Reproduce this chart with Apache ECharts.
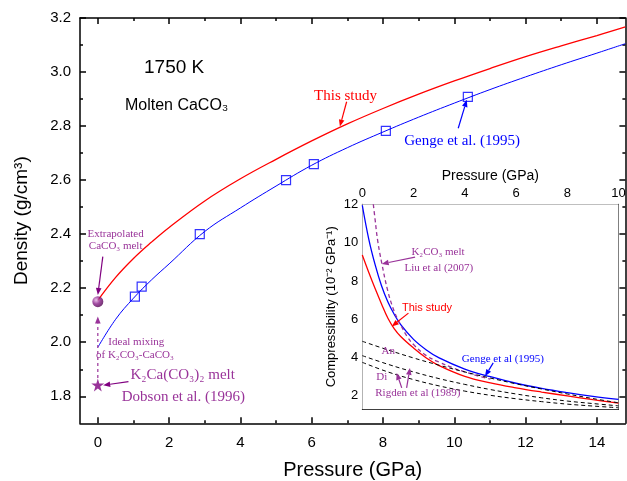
<!DOCTYPE html>
<html>
<head>
<meta charset="utf-8">
<script src="https://cdn.jsdelivr.net/npm/echarts@6/dist/echarts.min.js"></script>
<style>
  html, body { margin: 0; padding: 0; background: #fff; }
  #chart { width: 627px; height: 481px; }
</style>
</head>
<body>
<div id="chart"></div>
<script>
// ---- main plot: density of molten CaCO3 vs pressure ----
const pressure = [0, 0.5, 1, 1.5, 2, 3, 4, 5, 6, 7, 8, 9, 10, 11, 12, 13, 14, 14.8];
const rhoThisStudy = [2.155, 2.24, 2.31, 2.37, 2.425, 2.523, 2.605, 2.677, 2.745, 2.808, 2.865, 2.918, 2.967, 3.013, 3.057, 3.097, 3.135, 3.167];
const rhoGenge = [1.981, 2.085, 2.163, 2.23, 2.29, 2.41, 2.497, 2.578, 2.655, 2.72, 2.778, 2.833, 2.885, 2.935, 2.982, 3.027, 3.07, 3.105];
const gengeP = [1.04, 1.23, 2.86, 5.28, 6.06, 8.08, 10.38];
const gengeRho = [2.169, 2.206, 2.40, 2.60, 2.659, 2.782, 2.908];
const extrapolatedCaCO3 = [0, 2.15];
const dobsonK2Ca = [0, 1.842];

// ---- inset: compressibility vs pressure ----
const insetP = [0, 0.25, 0.5, 0.75, 1, 1.25, 1.5, 2, 2.5, 3, 4, 5, 6, 7, 8, 9, 10];
const betaThisStudy = [9.35, 8.45, 7.6, 6.8, 6.05, 5.5, 5.1, 4.5, 3.98, 3.58, 3.02, 2.68, 2.42, 2.2, 2.0, 1.8, 1.62];
const betaGenge = [11.95, 10.2, 8.85, 7.75, 6.9, 6.25, 5.72, 4.95, 4.4, 3.98, 3.4, 3.0, 2.66, 2.39, 2.17, 1.98, 1.82];
const liuP = [0.43, 0.5, 0.6, 0.76, 1.0, 1.25, 1.5, 1.75, 2.0, 2.5, 3.0, 3.5, 4.0, 4.5, 5.0];
const betaLiu = [12.0, 11.2, 10.1, 8.93, 7.45, 6.4, 5.7, 5.1, 4.68, 4.1, 3.76, 3.48, 3.25, 3.05, 2.87];
const rigdenP = [0, 1, 2, 3, 4, 5, 6, 7, 8, 9, 10];
const betaAn = [4.85, 4.4, 3.98, 3.6, 3.25, 2.93, 2.63, 2.36, 2.1, 1.86, 1.64];
const betaDi = [4.1, 3.65, 3.25, 2.9, 2.6, 2.33, 2.1, 1.9, 1.73, 1.6, 1.48];
const betaAnDi = [3.75, 3.25, 2.85, 2.52, 2.25, 2.03, 1.85, 1.7, 1.57, 1.47, 1.38];

const mainXMajor = [0, 2, 4, 6, 8, 10, 12, 14];
const mainXMinor = [1, 3, 5, 7, 9, 11, 13];
const mainYMajor = [1.8, 2.0, 2.2, 2.4, 2.6, 2.8, 3.0, 3.2];
const mainYMinor = [1.9, 2.1, 2.3, 2.5, 2.7, 2.9, 3.1];
const insetXMajor = [0, 2, 4, 6, 8, 10];
const insetXMinor = [1, 3, 5, 7, 9];
const insetYMajor = [2, 4, 6, 8, 10, 12];
const insetYMinor = [3, 5, 7, 9, 11];

const zip = (xs, ys) => xs.map((x, i) => [x, ys[i]]);

const SANS = 'Liberation Sans, Arial, sans-serif';
const SERIF = 'Liberation Serif, Times New Roman, serif';
const PURPLE = '#993399';

const chart = echarts.init(document.getElementById('chart'), null, { renderer: 'canvas' });

// one axis builder, used for every tick row (main + minor, mirrored sides)
function axis(kind, o) {
  const a = {
    type: 'value',
    gridIndex: o.grid,
    position: o.pos,
    min: o.min,
    max: o.max,
    splitLine: { show: false },
    axisLine: { show: o.line !== false, onZero: false, lineStyle: { color: '#000', width: o.lw || 1 } },
    axisTick: { show: true, inside: true, length: o.tick, customValues: o.ticks, lineStyle: { color: '#000', width: o.lw || 1 } },
    axisLabel: o.labels ? {
      show: true, customValues: o.labels, color: '#000', fontFamily: SANS, fontSize: o.fs, margin: o.margin,
      formatter: o.fmt || (v => String(v))
    } : { show: false },
  };
  if (o.name) {
    a.name = o.name;
    a.nameLocation = 'middle';
    a.nameGap = o.nameGap;
    a.nameTextStyle = { fontFamily: SANS, fontSize: o.nameFs, color: '#000' };
    if (kind === 'y') a.nameRotate = 90;
  }
  return a;
}

const MX = { grid: 0, min: -0.5, max: 14.8, lw: 1.5 };
const MY = { grid: 0, min: 1.7, max: 3.2, lw: 1.5 };
const IX = { grid: 1, min: 0, max: 10 };
const IY = { grid: 1, min: 1.3, max: 12 };

const xAxes = [
  axis('x', { ...MX, pos: 'bottom', tick: 6, ticks: mainXMajor, labels: mainXMajor, fs: 15, margin: 12, name: 'Pressure (GPa)', nameGap: 37, nameFs: 20 }),
  axis('x', { ...MX, pos: 'bottom', tick: 3, ticks: mainXMinor, line: false }),
  axis('x', { ...MX, pos: 'top', tick: 6, ticks: mainXMajor }),
  axis('x', { ...MX, pos: 'top', tick: 3, ticks: mainXMinor, line: false }),
  axis('x', { ...IX, pos: 'top', tick: 5, ticks: insetXMajor, labels: insetXMajor, fs: 13, margin: 4, name: 'Pressure (GPa)', nameGap: 21, nameFs: 14 }),
  axis('x', { ...IX, pos: 'top', tick: 3, ticks: insetXMinor, line: false }),
  axis('x', { ...IX, pos: 'bottom', tick: 5, ticks: insetXMajor }),
  axis('x', { ...IX, pos: 'bottom', tick: 3, ticks: insetXMinor, line: false }),
];
const yAxes = [
  axis('y', { ...MY, pos: 'left', tick: 6, ticks: mainYMajor, labels: mainYMajor, fs: 15, margin: 9, fmt: v => v.toFixed(1), name: 'Density (g/cm³)', nameGap: 49, nameFs: 19 }),
  axis('y', { ...MY, pos: 'left', tick: 3, ticks: mainYMinor, line: false }),
  axis('y', { ...MY, pos: 'right', tick: 6, ticks: mainYMajor }),
  axis('y', { ...MY, pos: 'right', tick: 3, ticks: mainYMinor, line: false }),
  axis('y', { ...IY, pos: 'left', tick: 5, ticks: insetYMajor, labels: insetYMajor, fs: 13, margin: 4, name: 'Compressibility (10⁻² GPa⁻¹)', nameGap: 24, nameFs: 13 }),
  axis('y', { ...IY, pos: 'left', tick: 3, ticks: insetYMinor, line: false }),
  axis('y', { ...IY, pos: 'right', tick: 5, ticks: insetYMajor }),
  axis('y', { ...IY, pos: 'right', tick: 3, ticks: insetYMinor, line: false }),
];

const lineSeries = (name, data, color, xi, yi, dashed, width) => ({
  name, type: 'line', data, xAxisIndex: xi, yAxisIndex: yi,
  smooth: 0.4, showSymbol: false, symbol: 'none',
  lineStyle: { color, width: width || 1.2, type: dashed ? [4, 3] : 'solid' },
  clip: true, z: 3,
});

chart.setOption({
  animation: false,
  backgroundColor: '#fff',
  grid: [
    { left: 80, top: 18, width: 545.4, height: 405.3, show: false, outerBoundsMode: 'none', containLabel: false },
    { left: 362.3, top: 204.3, width: 256.2, height: 205, show: true, backgroundColor: '#fff', borderWidth: 0, z: 1,
      outerBoundsMode: 'none', containLabel: false },
  ],
  xAxis: xAxes,
  yAxis: yAxes,
  series: [
    lineSeries('This study', zip(pressure, rhoThisStudy), '#ff0000', 0, 0, false, 1.3),
    lineSeries('Genge et al. (1995)', zip(pressure, rhoGenge), '#0000ff', 0, 0, false, 1),
    {
      name: 'Genge data', type: 'scatter', xAxisIndex: 0, yAxisIndex: 0,
      data: zip(gengeP, gengeRho), symbol: 'rect', symbolSize: 9,
      itemStyle: { color: 'rgba(255,255,255,0)', borderColor: '#0000ff', borderWidth: 1.2 }, z: 4,
    },
    {
      name: 'Extrapolated CaCO3 melt', type: 'scatter', xAxisIndex: 0, yAxisIndex: 0,
      data: [extrapolatedCaCO3], symbol: 'circle', symbolSize: 11, z: 5,
      itemStyle: {
        color: { type: 'radial', x: 0.35, y: 0.35, r: 0.7, colorStops: [
          { offset: 0, color: '#e6b3e6' }, { offset: 0.5, color: '#8a1f8a' }, { offset: 1, color: '#4d004d' } ] },
      },
    },
    {
      name: 'K2Ca(CO3)2 melt', type: 'scatter', xAxisIndex: 0, yAxisIndex: 0,
      data: [dobsonK2Ca], symbolSize: 13, z: 5,
      symbol: 'path://M50,0 L61,35 L98,35 L68,57 L79,91 L50,70 L21,91 L32,57 L2,35 L39,35 Z',
      itemStyle: { color: '#800080' },
    },
    lineSeries('This study inset', zip(insetP, betaThisStudy), '#ff0000', 4, 4, false, 1.3),
    lineSeries('Genge inset', zip(insetP, betaGenge), '#0000ff', 4, 4, false, 1.3),
    lineSeries('Liu K2CO3', zip(liuP, betaLiu), PURPLE, 4, 4, true, 1.3),
    lineSeries('An', zip(rigdenP, betaAn), '#000', 4, 4, true, 1),
    lineSeries('Di', zip(rigdenP, betaDi), '#000', 4, 4, true, 1),
    lineSeries('An-Di', zip(rigdenP, betaAnDi), '#000', 4, 4, true, 1),
  ],
});

// annotations, placed in data coordinates of the grid they belong to
const px = (g, p) => chart.convertToPixel({ gridIndex: g }, p);
const gfx = [];
function label(g, p, text, color, size, family, align) {
  const [x, y] = px(g, p);
  gfx.push({ type: 'text', z: 50, style: {
    x, y, text, fill: color, fontSize: size, fontFamily: family,
    align: align || 'center', textAlign: align || 'center', verticalAlign: 'middle', textVerticalAlign: 'middle' } });
}
function arrow(g, from, to, color, dashed) {
  const a = px(g, from), b = px(g, to);
  const ang = Math.atan2(b[1] - a[1], b[0] - a[0]);
  const L = 7, W = 2.8;
  const bx = b[0] - L * Math.cos(ang), by = b[1] - L * Math.sin(ang);
  const nx = -Math.sin(ang) * W, ny = Math.cos(ang) * W;
  gfx.push({ type: 'line', z: 50, shape: { x1: a[0], y1: a[1], x2: bx, y2: by },
    style: { stroke: color, lineWidth: 1.2, lineDash: dashed ? [3, 3] : null } });
  gfx.push({ type: 'polygon', z: 50, shape: { points: [b, [bx + nx, by + ny], [bx - nx, by - ny]] }, style: { fill: color } });
}

// main plot
label(0, [2.14, 3.016], '1750 K', '#000', 19, SANS);
label(0, [0.76, 2.874], 'Molten CaCO₃', '#000', 16, SANS, 'left');
label(0, [6.95, 2.9125], 'This study', '#ff0000', 15, SERIF);
arrow(0, [6.98, 2.89], [6.79, 2.798], '#ff0000');
label(0, [10.22, 2.746], 'Genge et al. (1995)', '#0000ff', 15, SERIF);
arrow(0, [10.11, 2.792], [10.35, 2.897], '#0000ff');
label(0, [0.5, 2.40], 'Extrapolated', PURPLE, 11, SERIF);
label(0, [0.5, 2.354], 'CaCO₃ melt', PURPLE, 11, SERIF);
arrow(0, [0.14, 2.317], [0.0, 2.175], '#800080');
label(0, [1.08, 2.002], 'Ideal mixing', PURPLE, 11, SERIF);
label(0, [1.04, 1.953], 'of K₂CO₃-CaCO₃', PURPLE, 11, SERIF);
arrow(0, [0, 1.868], [0, 2.095], PURPLE, true);
label(0, [2.38, 1.879], 'K₂Ca(CO₃)₂ melt', PURPLE, 15, SERIF);
label(0, [2.40, 1.7985], 'Dobson et al. (1996)', PURPLE, 15, SERIF);
arrow(0, [0.86, 1.854], [0.15, 1.841], '#800080');

// inset
label(1, [2.955, 9.5], 'K₂CO₃ melt', PURPLE, 11, SERIF);
label(1, [2.99, 8.67], 'Liu et al (2007)', PURPLE, 11, SERIF);
arrow(1, [2.06, 9.24], [0.757, 8.89], PURPLE);
label(1, [2.525, 6.58], 'This study', '#ff0000', 11, SANS);
arrow(1, [1.8, 6.32], [1.15, 5.625], '#ff0000');
label(1, [5.49, 3.93], 'Genge et al (1995)', '#0000ff', 11, SERIF);
arrow(1, [5.11, 3.72], [4.79, 3.02], '#0000ff');
label(1, [1.01, 4.36], 'An', PURPLE, 11, SERIF);
label(1, [0.76, 2.99], 'Di', PURPLE, 11, SERIF);
label(1, [2.17, 2.16], 'Rigden et al (1989)', PURPLE, 11, SERIF);
arrow(1, [1.54, 2.42], [1.34, 3.2], PURPLE);
arrow(1, [1.73, 2.42], [1.86, 3.46], PURPLE);

chart.setOption({ graphic: gfx });
</script>
</body>
</html>
